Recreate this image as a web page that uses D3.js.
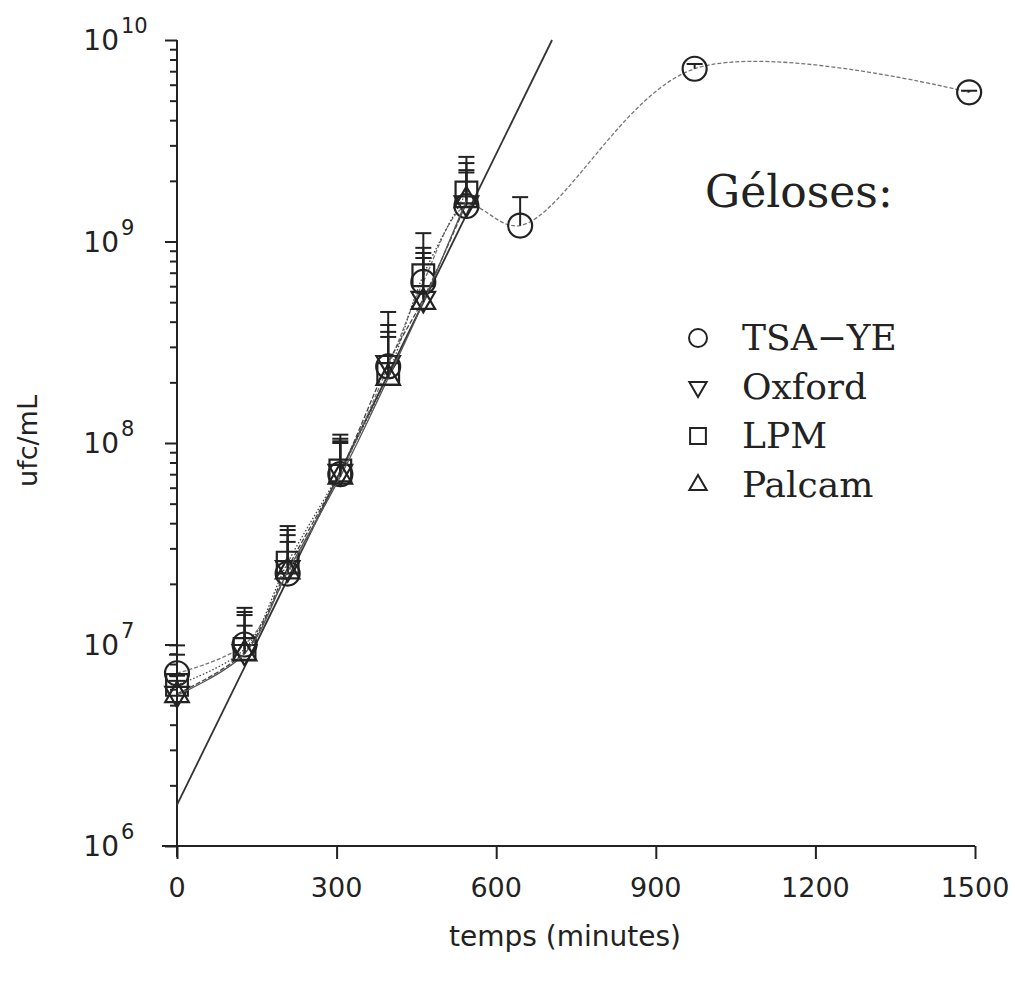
<html>
<head>
<script src="https://d3js.org/d3.v7.min.js"></script>
<style>
  body { margin: 0; background: white; }
  svg { display: block; }
</style>
</head>
<body>
<div id="chart"></div>
<script>
// sampling times (minutes)
const times = [0, 127, 208, 307, 397, 463, 544];
const tsaTimes = [0, 127, 208, 307, 397, 463, 544, 645, 973, 1489];

// counts (ufc/mL) per agar, and upper end of the error bars
const tsaValues    = [7.2e6, 1.0e7, 2.25e7, 7.0e7, 2.4e8, 6.3e8, 1.5e9, 1.2e9, 7.2e9, 5.5e9];
const tsaErr       = [8.9e6, 1.52e7, 3.87e7, 1.10e8, 4.47e8, 1.10e9, 2.63e9, 1.66e9, 7.6e9, 5.6e9];
const oxfordValues = [5.7e6, 9.2e6, 2.4e7, 7.2e7, 2.5e8, 5.2e8, 1.55e9];
const oxfordErr    = [7.0e6, 1.24e7, 3.23e7, 1.0e8, 3.56e8, 8.28e8, 2.26e9];
const lpmValues    = [6.3e6, 9.5e6, 2.55e7, 7.3e7, 2.2e8, 6.8e8, 1.75e9];
const lpmErr       = [9.9e6, 1.45e7, 3.70e7, 1.05e8, 3.85e8, 9.3e8, 2.45e9];
const palcamValues = [5.6e6, 9.0e6, 2.3e7, 6.8e7, 2.1e8, 5.0e8, 1.6e9];
const palcamErr    = [6.6e6, 1.40e7, 3.49e7, 1.02e8, 3.36e8, 8.77e8, 2.2e9];

// fitted exponential growth line
const fitTimes  = [0, 705];
const fitValues = [1.6e6, 1e10];

const legendNames = ["TSA\u2212YE", "Oxford", "LPM", "Palcam"];
const xTicks = [0, 300, 600, 900, 1200, 1500];
const yDecades = [6, 7, 8, 9, 10];

const w = 1015, h = 982;

const svg = d3.select("#chart").append("svg")
    .attr("width", w)
    .attr("height", h);

const x = d3.scaleLinear().domain([0, 1500]).range([177, 975]);
const y = d3.scaleLog().domain([1e6, 1e10]).range([846, 40]);

const ink = "#222";

// x axis
svg.append("line")
    .attr("x1", 162).attr("x2", x(1500))
    .attr("y1", y(1e6)).attr("y2", y(1e6))
    .attr("stroke", ink).attr("stroke-width", 2);

const xAxis = svg.append("g")
    .attr("transform", "translate(0," + y(1e6) + ")")
    .call(d3.axisBottom(x).tickValues(xTicks).tickSize(13).tickSizeOuter(0).tickFormat(""));
xAxis.select(".domain").remove();
xAxis.selectAll("line").attr("stroke", ink).attr("stroke-width", 2);

svg.selectAll(".xlab")
    .data(xTicks)
    .enter()
    .append("text")
    .attr("class", "xlab")
    .attr("x", d => x(d))
    .attr("y", 897)
    .attr("text-anchor", "middle")
    .style("font-family", "DejaVu Sans")
    .style("font-size", "27px")
    .style("fill", ink)
    .text(d => d);

svg.append("text")
    .attr("x", 565)
    .attr("y", 946)
    .attr("text-anchor", "middle")
    .style("font-family", "DejaVu Sans")
    .style("font-size", "28px")
    .style("fill", ink)
    .text("temps (minutes)");

// y axis with minor ticks
const yTickVals = [];
yDecades.forEach(e => {
    if (e === 10) { yTickVals.push(1e10); return; }
    for (let m = 1; m < 10; m++) yTickVals.push(m * Math.pow(10, e));
});

svg.append("line")
    .attr("x1", x(0)).attr("x2", x(0))
    .attr("y1", y(1e10)).attr("y2", 857)
    .attr("stroke", ink).attr("stroke-width", 2);

const yAxis = svg.append("g")
    .attr("transform", "translate(" + x(0) + ",0)")
    .call(d3.axisLeft(y).tickValues(yTickVals).tickSize(7).tickSizeOuter(0).tickFormat(""));
yAxis.select(".domain").remove();
yAxis.selectAll(".tick line")
    .attr("stroke", ink).attr("stroke-width", 2)
    .attr("x2", d => Math.abs(Math.log10(d) - Math.round(Math.log10(d))) < 1e-9 ? -12 : -7);

svg.selectAll(".ylab")
    .data(yDecades)
    .enter()
    .append("text")
    .attr("class", "ylab")
    .attr("x", 119)
    .attr("y", d => y(Math.pow(10, d)) + 10)
    .attr("text-anchor", "end")
    .style("font-family", "DejaVu Sans")
    .style("font-size", "28px")
    .style("fill", ink)
    .text("10");
svg.selectAll(".yexp")
    .data(yDecades)
    .enter()
    .append("text")
    .attr("class", "yexp")
    .attr("x", 121)
    .attr("y", d => y(Math.pow(10, d)) - 7)
    .style("font-family", "DejaVu Sans")
    .style("font-size", "21px")
    .style("fill", ink)
    .text(d => d);

svg.append("text")
    .attr("transform", "translate(37," + 441 + ") rotate(-90)")
    .attr("text-anchor", "middle")
    .style("font-family", "DejaVu Sans")
    .style("font-size", "27px")
    .style("fill", ink)
    .text("ufc/mL");

// fitted line
const line = d3.line().x(d => x(d.t)).y(d => y(d.v));
svg.append("path")
    .datum(fitTimes.map((t, i) => ({t: t, v: fitValues[i]})))
    .attr("d", line)
    .attr("fill", "none")
    .attr("stroke", "#333")
    .attr("stroke-width", 1.8);

// series
const series = [
    {name: legendNames[0], t: tsaTimes, v: tsaValues, e: tsaErr, sym: d3.symbolCircle, size: 452, rot: 0, dash: "4,2", col: "#777"},
    {name: legendNames[1], t: times, v: oxfordValues, e: oxfordErr, sym: d3.symbolTriangle, size: 240, rot: 180, dash: "5,2", col: "#444"},
    {name: legendNames[2], t: times, v: lpmValues, e: lpmErr, sym: d3.symbolSquare, size: 470, rot: 0, dash: "1.5,2", col: "#444"},
    {name: legendNames[3], t: times, v: palcamValues, e: palcamErr, sym: d3.symbolTriangle, size: 240, rot: 0, dash: null, col: "#555"}
];

const curve = d3.line().x(d => x(d.t)).y(d => y(d.v)).curve(d3.curveCatmullRom.alpha(0.5));

series.forEach(s => {
    const pts = s.t.map((t, i) => ({t: t, v: s.v[i], e: s.e[i]}));

    svg.append("path")
        .datum(pts)
        .attr("d", curve)
        .attr("fill", "none")
        .attr("stroke", s.col)
        .attr("stroke-width", 1.3)
        .attr("stroke-dasharray", s.dash);

    const g = svg.append("g");
    g.selectAll(".err")
        .data(pts)
        .enter()
        .append("line")
        .attr("x1", d => x(d.t)).attr("x2", d => x(d.t))
        .attr("y1", d => y(d.v)).attr("y2", d => y(d.e))
        .attr("stroke", ink).attr("stroke-width", 2);
    g.selectAll(".cap")
        .data(pts)
        .enter()
        .append("line")
        .attr("x1", d => x(d.t) - 8).attr("x2", d => x(d.t) + 8)
        .attr("y1", d => y(d.e)).attr("y2", d => y(d.e))
        .attr("stroke", ink).attr("stroke-width", 2);
    g.selectAll(".mark")
        .data(pts)
        .enter()
        .append("path")
        .attr("d", d3.symbol().type(s.sym).size(s.size))
        .attr("transform", d => "translate(" + x(d.t) + "," + y(d.v) + ") rotate(" + s.rot + ")")
        .attr("fill", "none")
        .attr("stroke", ink)
        .attr("stroke-width", 2.2);
});

// legend
svg.append("text")
    .attr("x", 705)
    .attr("y", 207)
    .style("font-family", "DejaVu Serif")
    .style("font-size", "44px")
    .style("fill", ink)
    .text("Géloses:");

const legendSizes = [254, 130, 250, 130];
const leg = svg.selectAll(".leg")
    .data(series)
    .enter()
    .append("g")
    .attr("class", "leg")
    .attr("transform", (d, i) => "translate(698," + (338 + i * 49) + ")");
leg.append("path")
    .attr("d", (d, i) => d3.symbol().type(d.sym).size(legendSizes[i])())
    .attr("transform", d => "rotate(" + d.rot + ")")
    .attr("fill", "none")
    .attr("stroke", ink)
    .attr("stroke-width", 2);
leg.append("text")
    .attr("x", 44)
    .attr("y", 12)
    .style("font-family", "DejaVu Serif")
    .style("font-size", "36px")
    .style("fill", ink)
    .text(d => d.name);
</script>
</body>
</html>
